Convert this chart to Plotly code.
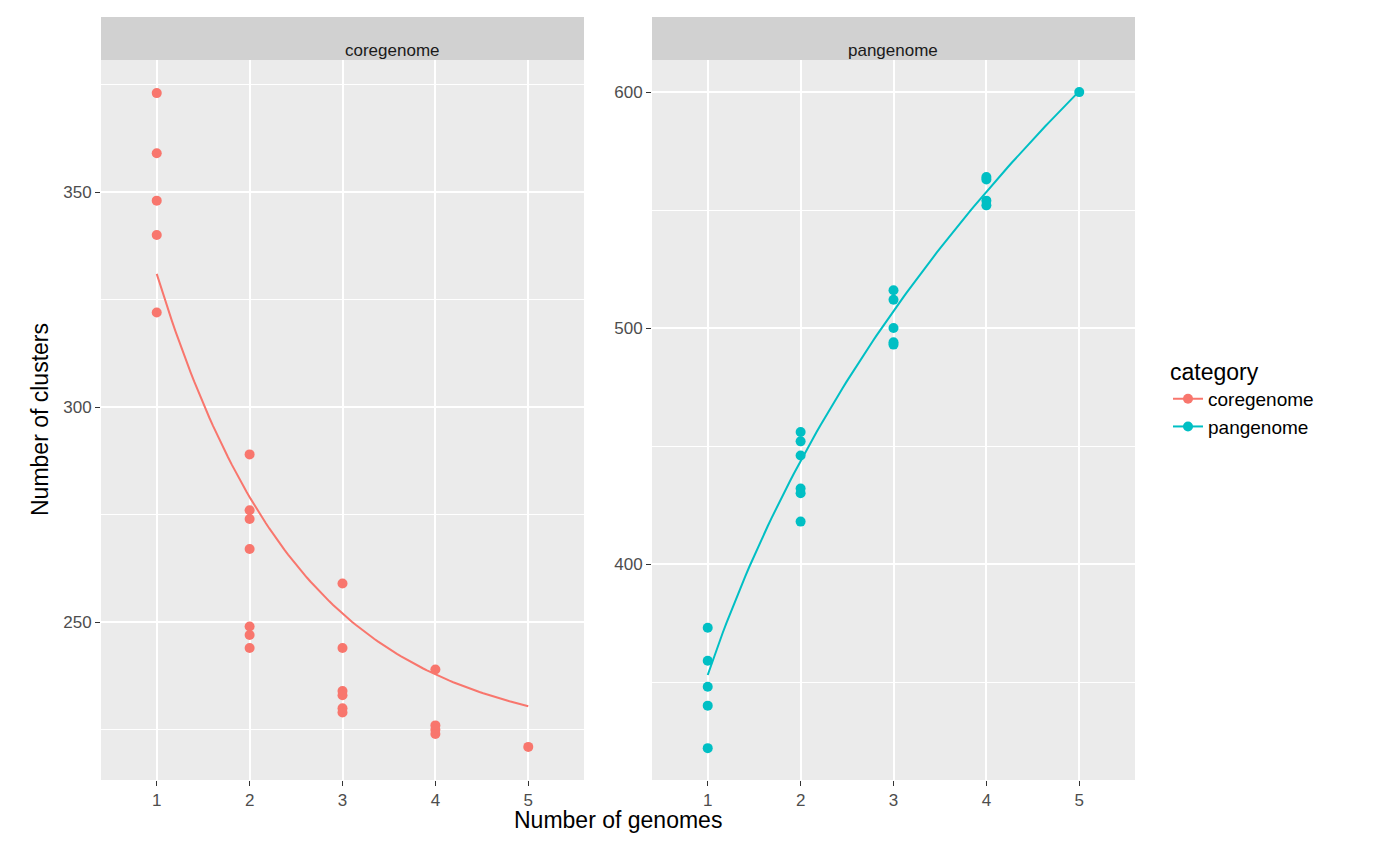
import numpy as np
import plotly.graph_objects as go

# data
core_x = [1, 1, 1, 1, 1, 2, 2, 2, 2, 2, 2, 2, 3, 3, 3, 3, 3, 3, 4, 4, 4, 4, 5]
core_y = [373, 359, 348, 340, 322, 289, 276, 274, 267, 249, 247, 244,
          259, 244, 234, 233, 230, 229, 239, 226, 225, 224, 221]
pan_x = [1, 1, 1, 1, 1, 2, 2, 2, 2, 2, 2, 3, 3, 3, 3, 3, 4, 4, 4, 4, 5]
pan_y = [373, 359, 348, 340, 322, 456, 452, 446, 432, 430, 418,
         516, 512, 500, 494, 493, 564, 563, 554, 552, 600]

# fitted model parameters (core: a*exp(-b*x)+c, pan: a*x^b)
core_fit = (208, 0.65, 222.4)
pan_fit = (353, 0.33)

RED = "#F8766D"
TEAL = "#00BFC4"

xf = np.linspace(1, 5, 100)
core_line = core_fit[0] * np.exp(-core_fit[1] * xf) + core_fit[2]
pan_line = pan_fit[0] * xf ** pan_fit[1]

W, H = 1400, 865
OFF = 8  # page offset compensation

def px(v):
    return (v - OFF) / W

def py(v):
    return 1 - (v - OFF) / H

fig = go.Figure()
fig.add_trace(go.Scatter(x=xf, y=core_line, mode="lines", line=dict(color=RED, width=2),
                         xaxis="x", yaxis="y", showlegend=False, hoverinfo="skip"))
fig.add_trace(go.Scatter(x=core_x, y=core_y, mode="markers", marker=dict(color=RED, size=10),
                         xaxis="x", yaxis="y", showlegend=False))
fig.add_trace(go.Scatter(x=xf, y=pan_line, mode="lines", line=dict(color=TEAL, width=2),
                         xaxis="x2", yaxis="y2", showlegend=False, hoverinfo="skip"))
fig.add_trace(go.Scatter(x=pan_x, y=pan_y, mode="markers", marker=dict(color=TEAL, size=10),
                         xaxis="x2", yaxis="y2", showlegend=False))
# legend entries
for name, col in [("coregenome", RED), ("pangenome", TEAL)]:
    fig.add_trace(go.Scatter(x=[None], y=[None], mode="lines+markers", name=name,
                             line=dict(color=col, width=2), marker=dict(color=col, size=10)))

ax = dict(showgrid=True, gridcolor="white", gridwidth=2, zeroline=False, ticks="outside",
          tickcolor="#333333", ticklen=5, tickfont=dict(size=17, color="#4d4d4d"))
yt = py(60)
yb = py(780)
fig.update_layout(
    width=W, height=H, margin=dict(l=0, r=0, t=0, b=0),
    plot_bgcolor="#EBEBEB", paper_bgcolor="white",
    font=dict(family="Liberation Sans, Arial", color="black"),
    xaxis=dict(ax, domain=[px(101), px(584)], range=[0.4, 5.6], dtick=1),
    xaxis2=dict(ax, domain=[px(652), px(1135)], range=[0.4, 5.6], dtick=1),
    yaxis=dict(ax, domain=[yb, yt], range=[213.3, 380.7], tickvals=[250, 300, 350],
               minor=dict(showgrid=True, gridcolor="white", gridwidth=1, tickvals=[225, 275, 325, 375], ticklen=0),
               anchor="x"),
    yaxis2=dict(ax, domain=[yb, yt], range=[308.5, 613.6], tickvals=[400, 500, 600],
                minor=dict(showgrid=True, gridcolor="white", gridwidth=1, tickvals=[350, 450, 550], ticklen=0),
                anchor="x2"),
    legend=dict(x=px(1168), y=py(350), yanchor="top", xanchor="left",
                title=dict(text="category", font=dict(size=23)), font=dict(size=19),
                bgcolor="white", tracegroupgap=12),
)
for x0, x1, lab in [(101, 584, "coregenome"), (652, 1135, "pangenome")]:
    fig.add_shape(type="rect", xref="paper", yref="paper", x0=px(x0), x1=px(x1),
                  y0=yt, y1=py(17), fillcolor="#D1D1D1", line=dict(width=0))
    fig.add_annotation(xref="paper", yref="paper", x=px((x0 + x1) / 2), y=py(39),
                       text=lab, showarrow=False, font=dict(size=17, color="#1a1a1a"))
fig.add_annotation(xref="paper", yref="paper", x=px(618), y=py(835), text="Number of genomes",
                   showarrow=False, font=dict(size=23))
fig.add_annotation(xref="paper", yref="paper", x=px(25), y=py(420), text="Number of clusters",
                   showarrow=False, textangle=-90, font=dict(size=23))
fig.write_html("out.html")
